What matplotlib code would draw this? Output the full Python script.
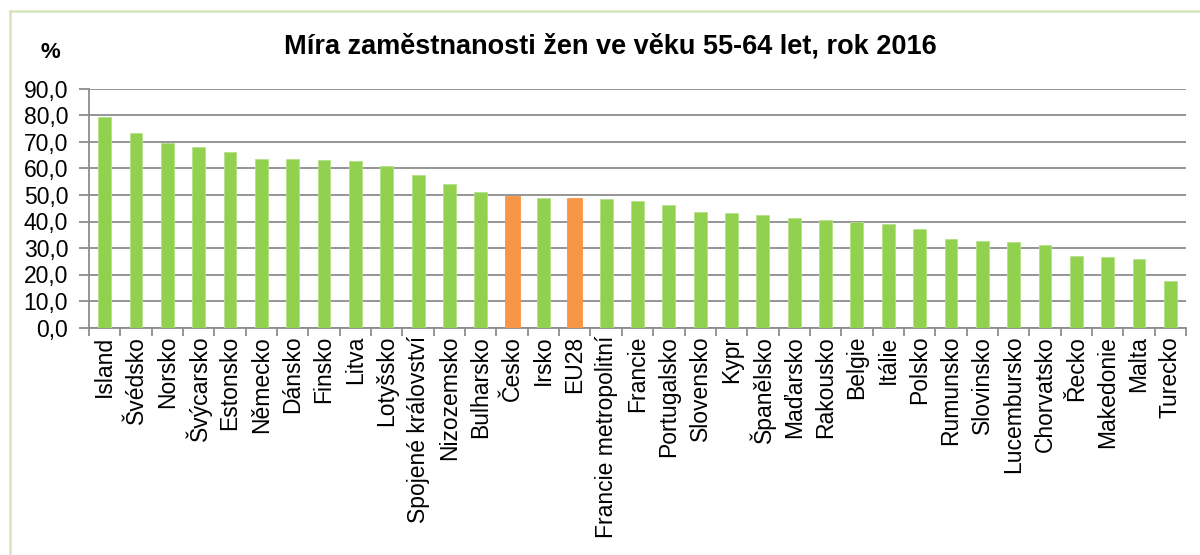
import matplotlib
matplotlib.use("Agg")
import matplotlib.pyplot as plt
from matplotlib.lines import Line2D
import numpy as np

plt.rcParams['font.family'] = ['Liberation Sans', 'DejaVu Sans']

# Data
countries = ['Island', 'Švédsko', 'Norsko', 'Švýcarsko', 'Estonsko', 'Německo',
             'Dánsko', 'Finsko', 'Litva', 'Lotyšsko', 'Spojené království',
             'Nizozemsko', 'Bulharsko', 'Česko', 'Irsko', 'EU28',
             'Francie metropolitní', 'Francie', 'Portugalsko', 'Slovensko',
             'Kypr', 'Španělsko', 'Maďarsko', 'Rakousko', 'Belgie', 'Itálie',
             'Polsko', 'Rumunsko', 'Slovinsko', 'Lucembursko', 'Chorvatsko',
             'Řecko', 'Makedonie', 'Malta', 'Turecko']
values = [79.6, 73.3, 69.5, 68.0, 66.3, 63.7, 63.6, 63.2, 62.8, 61.0, 57.4,
          54.2, 51.1, 49.8, 48.9, 48.9, 48.4, 47.9, 46.3, 43.7, 43.2, 42.5,
          41.5, 40.7, 39.7, 39.1, 37.0, 33.3, 32.8, 32.3, 31.2, 27.1, 26.5,
          25.9, 17.5]
highlight = ['Česko', 'EU28']

green = '#92D050'
orange = '#F79646'
grid_col = '#8c8c8c'

fig = plt.figure(figsize=(12, 5.55), dpi=100)
ax = fig.add_axes([89 / 1200, 1 - 327.5 / 555, (1186 - 89) / 1200, (327.5 - 89) / 555])

x = np.arange(len(countries))
colors = [orange if c in highlight else green for c in countries]
widths = [0.48 if c in highlight else 0.41 for c in countries]
edges = ['#F79646' if c in highlight else '#b5e08a' for c in countries]
ax.bar(x, values, width=widths, color=colors, edgecolor=edges, linewidth=0.6, zorder=3)

ax.set_xlim(-0.5, len(countries) - 0.5)
ax.set_ylim(0, 90)
ax.set_yticks(np.arange(0, 91, 10))
ax.set_yticklabels([f'{v:.1f}'.replace('.', ',') for v in np.arange(0, 91, 10)], fontsize=16.5)
ax.yaxis.grid(True, color=grid_col, linewidth=1.3, zorder=0)
ax.set_axisbelow(True)

ax.set_xticks(x)
ax.set_xticklabels(countries, rotation=90, fontsize=16.5)
ax.tick_params(axis='x', length=0, pad=6)
ax.set_xticks(np.arange(-0.5, len(countries), 1), minor=True)
ax.tick_params(axis='x', which='minor', length=6, color=grid_col, width=1.3)
ax.tick_params(axis='y', length=7, color=grid_col, width=1.3, pad=8)

for s in ['top', 'right']:
    ax.spines[s].set_visible(False)
for s in ['left', 'bottom']:
    ax.spines[s].set_color(grid_col)
    ax.spines[s].set_linewidth(1.3)

fig.text(610 / 1200, 1 - 46 / 555, 'Míra zaměstnanosti žen ve věku 55-64 let, rok 2016',
         ha='center', va='center', fontsize=19.5, fontweight='bold')
fig.text(50 / 1200, 1 - 53 / 555, '%', ha='center', va='center', fontsize=16, fontweight='bold')

# outer chart frame (left and top edges visible)
frame_col = '#d7e4bd'
fig.add_artist(Line2D([9.5 / 1200, 9.5 / 1200], [0, 1 - 11 / 555], color=frame_col, lw=1.8,
                      transform=fig.transFigure))
fig.add_artist(Line2D([9.5 / 1200, 1], [1 - 11 / 555, 1 - 11 / 555], color=frame_col, lw=1.8,
                      transform=fig.transFigure))

fig.savefig('out.png', dpi=100)
